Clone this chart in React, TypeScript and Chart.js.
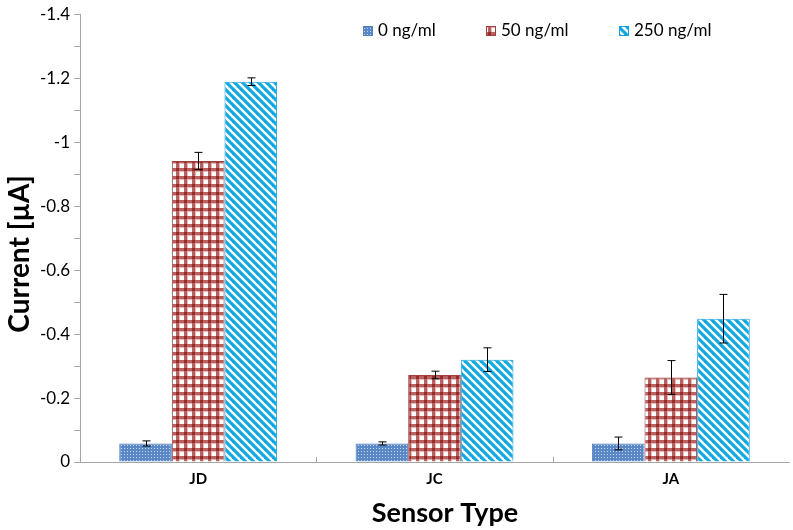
import React, { useEffect, useRef } from 'react';
import { Chart, registerables } from 'chart.js';
Chart.register(...registerables);

const categories = ['JD', 'JC', 'JA'];
const seriesLabels = ['0 ng/ml', '50 ng/ml', '250 ng/ml'];
const values0 = [-0.058, -0.058, -0.058];
const values50 = [-0.941, -0.272, -0.264];
const values250 = [-1.189, -0.32, -0.448];
const err0 = [0.008, 0.005, 0.02];
const err50 = [0.027, 0.012, 0.053];
const err250 = [0.012, 0.037, 0.076];
const yMin = -1.4;
const yMax = 0;
const yStep = 0.1;
const xTitle = 'Sensor Type';
const yTitle = 'Current [µA]';

const FONT = 'Lato, "Open Sans", sans-serif';

function makePattern(kind: string): CanvasPattern | string {
  const c = document.createElement('canvas');
  const ctx = c.getContext('2d')!;
  if (kind === 'dots') {
    c.width = 3; c.height = 3;
    ctx.fillStyle = '#5A87C6';
    ctx.fillRect(0, 0, 3, 3);
    ctx.fillStyle = '#C9D8EE';
    ctx.fillRect(1, 1, 1, 1);
  } else if (kind === 'plaid') {
    c.width = 8; c.height = 8;
    ctx.fillStyle = '#ffffff';
    ctx.fillRect(0, 0, 8, 8);
    ctx.fillStyle = '#B9615F';
    ctx.fillRect(0, 0, 8, 3);
    ctx.fillRect(0, 0, 3, 8);
    ctx.fillStyle = '#E2B9B8';
    ctx.fillRect(3, 3, 1, 5);
    ctx.fillRect(3, 3, 5, 1);
    ctx.fillStyle = '#962C2A';
    ctx.fillRect(0, 0, 3, 3);
  } else {
    c.width = 8; c.height = 8;
    ctx.fillStyle = '#ffffff';
    ctx.fillRect(0, 0, 8, 8);
    ctx.strokeStyle = '#10A9E2';
    ctx.lineWidth = 3.2;
    ctx.lineCap = 'square';
    for (let x = -16; x <= 16; x += 8) {
      ctx.beginPath();
      ctx.moveTo(x, 0);
      ctx.lineTo(x + 8, 8);
      ctx.stroke();
    }
  }
  return ctx.createPattern(c, 'repeat') as CanvasPattern;
}

export default function App() {
  const ref = useRef<HTMLCanvasElement>(null);
  useEffect(() => {
    const canvas = ref.current!;
    const patterns = [makePattern('dots'), makePattern('plaid'), makePattern('stripes')];
    const borders = ['#4F81BD', '#A3403E', '#1A9FD9'];
    const errs = [err0, err50, err250];

    const errorBars = {
      id: 'errorBars',
      afterDatasetsDraw(chart: any) {
        const ctx = chart.ctx;
        const ys = chart.scales.y;
        ctx.save();
        ctx.strokeStyle = '#000';
        ctx.lineWidth = 1;
        chart.data.datasets.forEach((ds: any, i: number) => {
          const meta = chart.getDatasetMeta(i);
          meta.data.forEach((el: any, j: number) => {
            const v = ds.data[j];
            const e = errs[i][j];
            const x = Math.round(el.x) + 0.5;
            const y1 = ys.getPixelForValue(v - e);
            const y2 = ys.getPixelForValue(v + e);
            ctx.beginPath();
            ctx.moveTo(x, y1); ctx.lineTo(x, y2);
            ctx.moveTo(x - 4, y1); ctx.lineTo(x + 4, y1);
            ctx.moveTo(x - 4, y2); ctx.lineTo(x + 4, y2);
            ctx.stroke();
          });
        });
        ctx.restore();
      },
    };

    const extras = {
      id: 'extras',
      afterDraw(chart: any) {
        const ctx = chart.ctx;
        const xs = chart.scales.x;
        const area = chart.chartArea;
        ctx.save();
        ctx.strokeStyle = '#A6A6A6';
        ctx.lineWidth = 1;
        const n = categories.length;
        const w = (xs.right - xs.left) / n;
        for (let k = 1; k < n; k++) {
          const x = Math.round(xs.left + k * w) + 0.5;
          ctx.beginPath();
          ctx.moveTo(x, area.bottom - 5);
          ctx.lineTo(x, area.bottom);
          ctx.stroke();
        }
        const pos = [363, 486, 619];
        ctx.font = '17px ' + FONT;
        ctx.textBaseline = 'middle';
        ctx.textAlign = 'left';
        seriesLabels.forEach((lab, i) => {
          ctx.fillStyle = patterns[i];
          ctx.fillRect(pos[i], 26, 10, 10);
          ctx.strokeStyle = borders[i];
          ctx.strokeRect(pos[i] + 0.5, 26.5, 9, 9);
          ctx.fillStyle = '#000';
          ctx.fillText(lab, pos[i] + 15, 31);
        });
        ctx.fillStyle = '#000';
        ctx.font = 'bold 27px ' + FONT;
        ctx.textAlign = 'center';
        ctx.textBaseline = 'middle';
        ctx.fillText(xTitle, 445, 513);
        ctx.translate(20, 254);
        ctx.rotate(-Math.PI / 2);
        ctx.font = 'bold 28px ' + FONT;
        ctx.fillText(yTitle, 0, 0);
        ctx.restore();
      },
    };

    const chart = new Chart(canvas, {
      type: 'bar',
      data: {
        labels: categories,
        datasets: [
          { label: seriesLabels[0], data: values0, backgroundColor: patterns[0], borderColor: borders[0], borderWidth: 1 },
          { label: seriesLabels[1], data: values50, backgroundColor: patterns[1], borderColor: borders[1], borderWidth: 1 },
          { label: seriesLabels[2], data: values250, backgroundColor: patterns[2], borderColor: borders[2], borderWidth: 1 },
        ],
      },
      options: {
        animation: false,
        responsive: false,
        maintainAspectRatio: false,
        layout: { padding: { left: 0, top: 11, right: 4, bottom: 0 } },
        datasets: { bar: { categoryPercentage: 0.668, barPercentage: 1.0 } },
        plugins: { legend: { display: false }, tooltip: { enabled: false } },
        scales: {
          x: {
            grid: { display: false },
            border: { display: true, color: '#A6A6A6', width: 1 },
            ticks: { color: '#000', font: { family: FONT, size: 15, weight: 'bold' }, padding: 0 },
            title: { display: false },
            afterFit: (s: any) => { s.height = 68; },
          },
          y: {
            reverse: true,
            min: yMin,
            max: yMax,
            grid: { display: true, drawOnChartArea: false, drawTicks: true, tickLength: 6, color: '#A6A6A6' },
            border: { display: true, color: '#A6A6A6', width: 1 },
            ticks: {
              stepSize: yStep,
              autoSkip: false,
              color: '#000',
              padding: 4,
              font: { family: FONT, size: 17 },
              callback: (v: any) => {
                const r = Math.round(Number(v) * 10);
                if (r % 2 !== 0) return '';
                return String(r / 10);
              },
            },
            title: { display: false },
            afterFit: (s: any) => { s.width = 80; },
          },
        },
      },
      plugins: [errorBars, extras],
    } as any);
    return () => chart.destroy();
  }, []);
  return (
    <div style={{ position: 'fixed', left: 0, top: 0, width: 793, height: 530, background: '#fff' }}>
      <canvas ref={ref} width={793} height={530} style={{ width: 793, height: 530, display: 'block' }} />
    </div>
  );
}
